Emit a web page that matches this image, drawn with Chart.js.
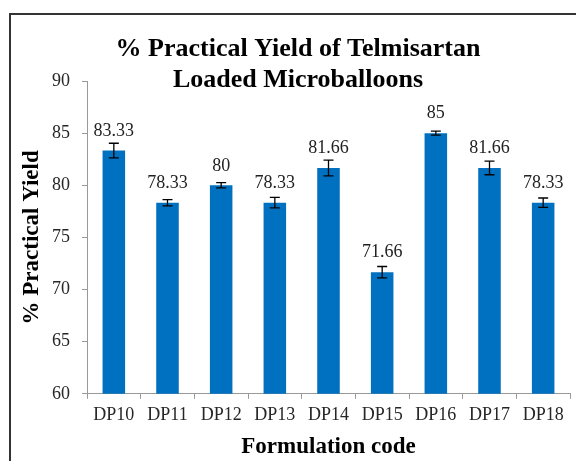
<!DOCTYPE html>
<html>
<head>
<meta charset="utf-8">
<script src="https://cdn.jsdelivr.net/npm/chart.js@4"></script>
<style>
  html, body { margin: 0; padding: 0; background: #fff; overflow: hidden; }
  #frame { position: absolute; left: 9px; top: 13px; width: 700px; height: 600px; border: 2px solid #333; }
  #wrap { position: absolute; left: 0; top: 0; width: 576px; height: 461px; }
</style>
</head>
<body>
<div id="frame"></div>
<div id="wrap"><canvas id="yieldChart" width="576" height="461"></canvas></div>
<script>
// Data
const formulations = ['DP10', 'DP11', 'DP12', 'DP13', 'DP14', 'DP15', 'DP16', 'DP17', 'DP18'];
const yieldValues = [83.33, 78.33, 80, 78.33, 81.66, 71.66, 85, 81.66, 78.33];
const yieldErrors = [0.7, 0.3, 0.25, 0.5, 0.75, 0.55, 0.2, 0.65, 0.45];
const titleLines = ['% Practical Yield of Telmisartan', 'Loaded Microballoons'];

const serif = "'Liberation Serif', 'Times New Roman', serif";

// Title drawn over the top of the plot, like the Excel original
const titlePlugin = {
    id: 'titleLines',
    afterDraw(chart) {
        const ctx = chart.ctx;
        ctx.save();
        ctx.font = "bold 26px " + serif;
        ctx.fillStyle = '#000';
        ctx.textAlign = 'center';
        ctx.textBaseline = 'middle';
        ctx.fillText(titleLines[0], 298, 49);
        ctx.fillText(titleLines[1], 298, 80);
        ctx.restore();
    }
};

// Error bars + value labels
const errorBarPlugin = {
    id: 'errorBars',
    afterDatasetsDraw(chart) {
        const ctx = chart.ctx;
        const yScale = chart.scales.y;
        const meta = chart.getDatasetMeta(0);
        ctx.save();
        meta.data.forEach((bar, i) => {
            const v = yieldValues[i];
            const e = yieldErrors[i];
            const yTop = yScale.getPixelForValue(v + e);
            const yBot = yScale.getPixelForValue(v - e);
            ctx.strokeStyle = '#000';
            ctx.lineWidth = 1.3;
            ctx.beginPath();
            ctx.moveTo(bar.x, yTop); ctx.lineTo(bar.x, yBot);
            ctx.moveTo(bar.x - 5, yTop); ctx.lineTo(bar.x + 5, yTop);
            ctx.moveTo(bar.x - 5, yBot); ctx.lineTo(bar.x + 5, yBot);
            ctx.stroke();

            ctx.font = "18px " + serif;
            ctx.fillStyle = '#222';
            ctx.textAlign = 'center';
            ctx.textBaseline = 'middle';
            ctx.fillText(String(v), bar.x, yScale.getPixelForValue(v) - 19.5);
        });
        ctx.restore();
    }
};

new Chart(document.getElementById('yieldChart'), {
    type: 'bar',
    data: {
        labels: formulations,
        datasets: [{
            data: yieldValues,
            backgroundColor: '#0070C0',
            borderWidth: 0,
            barPercentage: 0.42,
            categoryPercentage: 1.0
        }]
    },
    options: {
        responsive: false,
        animation: false,
        layout: { padding: { top: 81, right: 6, left: 0, bottom: 0 } },
        plugins: {
            legend: { display: false },
            tooltip: { enabled: false }
        },
        scales: {
            y: {
                min: 60,
                max: 90,
                ticks: { stepSize: 5, color: '#262626', padding: 12, font: { family: serif, size: 18 } },
                grid: { drawOnChartArea: false, drawTicks: true, tickLength: 5, color: '#999' },
                border: { color: '#999' },
                title: {
                    display: true,
                    text: '% Practical Yield',
                    color: '#000',
                    font: { family: serif, size: 23, weight: 'bold' },
                    padding: { top: 18, bottom: 0 }
                },
                afterFit(scale) { scale.width = 87; }
            },
            x: {
                ticks: { color: '#262626', padding: 6, font: { family: serif, size: 18 } },
                grid: { drawOnChartArea: false, drawTicks: true, tickLength: 5, color: '#999' },
                border: { color: '#999' },
                title: {
                    display: true,
                    text: 'Formulation code',
                    color: '#000',
                    font: { family: serif, size: 23, weight: 'bold' },
                    padding: { top: 1, bottom: 0 }
                }
            }
        }
    },
    plugins: [titlePlugin, errorBarPlugin]
});
</script>
</body>
</html>
